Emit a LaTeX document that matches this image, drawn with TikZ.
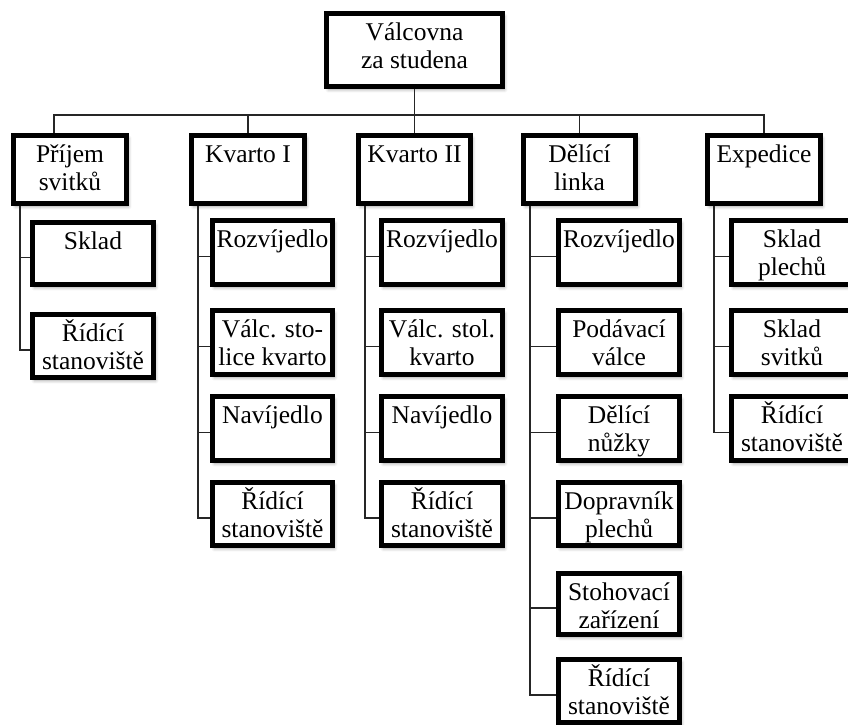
\documentclass[tikz,border=0pt]{standalone}
\usepackage{fontspec}
\setmainfont{Liberation Serif}
\usetikzlibrary{shadows,shadows.blur}
\tikzset{
  box/.style={draw=black, line width=4.6pt, fill=white, rectangle, inner sep=0pt,
    blur shadow={shadow xshift=2pt, shadow yshift=-3pt, shadow blur radius=3pt, shadow opacity=35}},
  txt/.style={font=\fontsize{25.5}{28}\selectfont, align=center, inner sep=0pt},
  conn/.style={draw=black!85, line width=1.2pt},
}
\newcommand\orgbox[6]{%
  \node[box, minimum width={(#4-#2-4.6)*1pt}, minimum height={(#5-#3-4.6)*1pt}, anchor=north west] (#1) at (#2,#3) {};
  \node[txt, anchor=north] (#1t) at ([yshift=-6pt]#1.north) {\rule{0pt}{23pt}#6};
}
\begin{document}
\begin{tikzpicture}[x=1pt, y=-1pt]
\useasboundingbox (0,0) rectangle (848,724);
\clip (0,0) rectangle (848,724);
% top
\orgbox{top}{324}{11}{505}{89}{Válcovna\\za studena}
% level 1
\orgbox{lp}{11}{133}{129}{206}{Příjem\\svitků}
\orgbox{lka}{189}{133}{307}{206}{Kvarto I}
\orgbox{lkb}{356}{133}{473}{206}{Kvarto II}
\orgbox{ld}{521}{133}{638}{206}{Dělící\\linka}
\orgbox{le}{705}{133}{823}{206}{Expedice}
% Prijem children
\orgbox{pa}{30}{220}{156}{287}{Sklad}
\orgbox{pb}{30}{312}{156}{380}{Řídící\\stanoviště}
% Kvarto I children
\orgbox{kaa}{210}{218}{335}{287}{Rozvíjedlo}
\orgbox{kab}{210}{308}{335}{377}{Válc. sto-\\lice kvarto}
\orgbox{kac}{210}{394}{335}{463}{Navíjedlo}
\orgbox{kad}{210}{480}{335}{548}{Řídící\\stanoviště}
% Kvarto II children
\orgbox{kba}{379}{218}{505}{287}{Rozvíjedlo}
\orgbox{kbb}{379}{308}{505}{377}{Válc. stol.\\kvarto}
\orgbox{kbc}{379}{394}{505}{463}{Navíjedlo}
\orgbox{kbd}{379}{480}{505}{548}{Řídící\\stanoviště}
% Delici linka children
\orgbox{da}{556}{218}{682}{287}{Rozvíjedlo}
\orgbox{db}{556}{308}{682}{377}{Podávací\\válce}
\orgbox{dc}{556}{394}{682}{463}{Dělící\\nůžky}
\orgbox{dd}{556}{480}{682}{548}{Dopravník\\plechů}
\orgbox{de}{556}{571}{682}{637}{Stohovací\\zařízení}
\orgbox{df}{556}{657}{682}{725}{Řídící\\stanoviště}
% Expedice children
\orgbox{ea}{729}{218}{855}{287}{Sklad\\plechů}
\orgbox{eb}{729}{308}{855}{377}{Sklad\\svitků}
\orgbox{ec}{729}{394}{855}{463}{Řídící\\stanoviště}
% bus connectors
\coordinate (bus) at (415,115);
\draw[conn] (top.south) -- (top.south |- bus);
\draw[conn] ([xshift=-16pt]lp.north) |- (bus) -| (le.north);
\draw[conn] (lka.north) -- (lka.north |- bus);
\draw[conn] (lkb.north) -- (lkb.north |- bus);
\draw[conn] (ld.north) -- (ld.north |- bus);
% child connectors
\foreach \p/\c in {lp/pa, lp/pb,
  lka/kaa, lka/kab, lka/kac, lka/kad,
  lkb/kba, lkb/kbb, lkb/kbc, lkb/kbd,
  ld/da, ld/db, ld/dc, ld/dd, ld/de, ld/df,
  le/ea, le/eb, le/ec}
  \draw[conn] ([xshift=9pt]\p.south west) |- ([yshift=-4pt]\c.west);
\end{tikzpicture}
\end{document}
